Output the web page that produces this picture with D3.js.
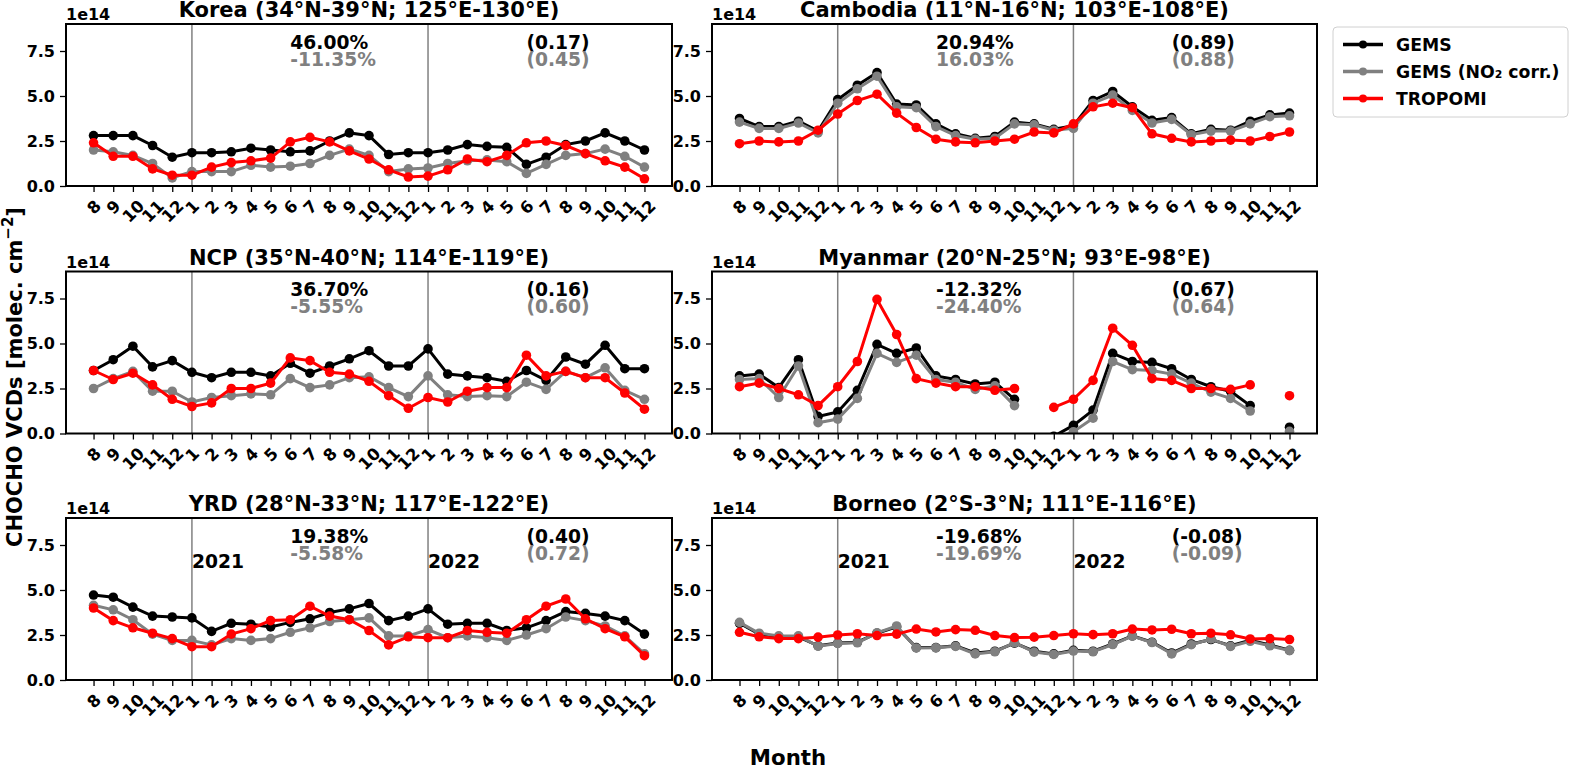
<!DOCTYPE html>
<html>
<head>
<meta charset="utf-8">
<script src="https://cdn.jsdelivr.net/npm/d3@7"></script>
<style>
  body { margin: 0; background: #fff; }
  svg { font-family: "DejaVu Sans", sans-serif; font-weight: bold; }
</style>
</head>
<body>
<div id="chart"></div>
<script>
// month tick labels, Aug 2020 .. Dec 2022
const months = ['8','9','10','11','12','1','2','3','4','5','6','7','8','9','10','11','12',
                '1','2','3','4','5','6','7','8','9','10','11','12']

const regions = ['Korea (34°N-39°N; 125°E-130°E)', 'Cambodia (11°N-16°N; 103°E-108°E)',
                 'NCP (35°N-40°N; 114°E-119°E)', 'Myanmar (20°N-25°N; 93°E-98°E)',
                 'YRD (28°N-33°N; 117°E-122°E)', 'Borneo (2°S-3°N; 111°E-116°E)']

const seriesNames = ['GEMS', 'GEMS (NO₂ corr.)', 'TROPOMI']
const yTicks = [0, 2.5, 5, 7.5]
const yearLabels = ['2021', '2022']
const yearIdx = [5, 17]

// values in 1e14 molec. cm-2
const koreaGems = [2.8,2.8,2.8,2.25,1.6,1.85,1.85,1.9,2.1,2.0,1.9,1.95,2.5,2.95,2.8,1.75,1.85,1.85,2.0,2.3,2.2,2.15,1.2,1.6,2.3,2.5,2.95,2.5,2.0]
const koreaCorr = [2.0,1.9,1.7,1.25,0.45,0.8,0.8,0.8,1.15,1.05,1.1,1.25,1.7,2.05,1.7,0.8,0.95,1.0,1.25,1.4,1.45,1.35,0.7,1.2,1.7,1.8,2.05,1.65,1.05]
const koreaTropomi = [2.4,1.65,1.65,0.95,0.6,0.6,1.05,1.3,1.4,1.55,2.45,2.7,2.45,1.95,1.5,0.9,0.5,0.55,0.9,1.5,1.35,1.7,2.4,2.5,2.25,1.8,1.4,1.05,0.4]

const cambodiaGems = [3.75,3.3,3.3,3.6,3.05,4.8,5.6,6.3,4.55,4.5,3.45,2.9,2.65,2.75,3.55,3.45,3.15,3.35,4.75,5.25,4.4,3.65,3.8,2.9,3.15,3.1,3.6,3.95,4.05]
const cambodiaCorr = [3.55,3.2,3.2,3.5,2.95,4.6,5.4,6.1,4.4,4.35,3.3,2.8,2.6,2.65,3.45,3.4,3.1,3.2,4.6,5.05,4.2,3.5,3.7,2.85,3.05,3.05,3.45,3.85,3.9]
const cambodiaTropomi = [2.35,2.5,2.45,2.5,3.1,4.0,4.75,5.1,4.05,3.25,2.6,2.45,2.4,2.5,2.6,3.0,2.95,3.45,4.4,4.6,4.35,2.9,2.65,2.45,2.5,2.55,2.5,2.75,3.0]

const ncpGems = [3.5,4.1,4.85,3.7,4.05,3.4,3.1,3.4,3.4,3.2,3.9,3.35,3.75,4.15,4.6,3.75,3.75,4.7,3.3,3.2,3.1,2.9,3.5,2.95,4.25,3.85,4.9,3.6,3.6]
const ncpCorr = [2.5,3.05,3.45,2.35,2.35,1.75,2.0,2.1,2.2,2.15,3.05,2.55,2.7,3.1,3.15,2.55,2.05,3.2,2.15,2.05,2.1,2.05,2.85,2.45,3.45,3.1,3.65,2.4,1.9]
const ncpTropomi = [3.5,3.0,3.35,2.7,1.9,1.5,1.7,2.5,2.5,2.8,4.2,4.05,3.4,3.3,2.9,2.1,1.4,2.0,1.75,2.35,2.55,2.55,4.35,3.2,3.45,3.1,3.1,2.25,1.35]

const myanmarGems = [3.2,3.3,2.55,4.1,0.95,1.2,2.4,4.95,4.45,4.75,3.2,3.0,2.75,2.85,1.9,null,-0.15,0.45,1.3,4.45,4.0,3.95,3.6,3.0,2.6,2.35,1.55,null,0.35]
const myanmarCorr = [3.0,3.05,2.0,3.75,0.6,0.8,1.95,4.45,3.95,4.35,3.0,2.85,2.45,2.65,1.55,null,-0.3,0.1,0.85,4.0,3.55,3.5,3.3,2.8,2.3,1.95,1.25,null,0.12]
const myanmarTropomi = [2.6,2.8,2.5,2.15,1.55,2.6,4.0,7.45,5.5,3.05,2.8,2.6,2.6,2.4,2.5,null,1.45,1.9,2.95,5.85,4.9,3.05,2.95,2.5,2.5,2.45,2.7,null,2.1]

const yrdGems = [4.72,4.6,4.05,3.55,3.5,3.45,2.7,3.15,3.1,2.95,3.2,3.4,3.75,3.95,4.25,3.3,3.55,3.95,3.1,3.15,3.15,2.75,2.9,3.3,3.8,3.7,3.55,3.3,2.55]
const yrdCorr = [4.15,3.9,3.35,2.55,2.2,2.2,1.95,2.3,2.2,2.3,2.65,2.9,3.25,3.35,3.45,2.45,2.45,2.8,2.35,2.45,2.35,2.2,2.5,2.85,3.5,3.3,3.0,2.45,1.45]
const yrdTropomi = [4.0,3.3,2.9,2.6,2.3,1.85,1.85,2.55,2.85,3.3,3.35,4.1,3.55,3.35,2.75,1.95,2.4,2.35,2.35,2.75,2.65,2.6,3.35,4.1,4.5,3.4,2.85,2.4,1.35]

const borneoGems = [3.15,2.55,2.4,2.4,1.9,2.05,2.1,2.6,2.95,1.8,1.8,1.9,1.5,1.6,2.05,1.6,1.45,1.65,1.6,2.0,2.45,2.1,1.5,2.0,2.25,1.9,2.2,1.95,1.65]
const borneoCorr = [3.2,2.6,2.45,2.45,1.88,2.03,2.07,2.62,3.0,1.78,1.79,1.87,1.45,1.57,2.07,1.55,1.42,1.61,1.57,1.97,2.44,2.08,1.45,1.96,2.28,1.87,2.15,1.9,1.63]
const borneoTropomi = [2.65,2.4,2.3,2.3,2.38,2.5,2.57,2.47,2.55,2.83,2.67,2.8,2.76,2.47,2.36,2.38,2.47,2.57,2.52,2.57,2.83,2.78,2.82,2.57,2.6,2.51,2.28,2.3,2.25]

// trend (%) and correlation annotations, panel order
const pctGems = ['46.00%', '20.94%', '36.70%', '-12.32%', '19.38%', '-19.68%']
const pctCorr = ['-11.35%', '16.03%', '-5.55%', '-24.40%', '-5.58%', '-19.69%']
const rGems = ['(0.17)', '(0.89)', '(0.16)', '(0.67)', '(0.40)', '(-0.08)']
const rCorr = ['(0.45)', '(0.88)', '(0.60)', '(0.64)', '(0.72)', '(-0.09)']

const panelData = [
  [koreaGems, koreaCorr, koreaTropomi],
  [cambodiaGems, cambodiaCorr, cambodiaTropomi],
  [ncpGems, ncpCorr, ncpTropomi],
  [myanmarGems, myanmarCorr, myanmarTropomi],
  [yrdGems, yrdCorr, yrdTropomi],
  [borneoGems, borneoCorr, borneoTropomi]
]

const colors = ['#000000', '#808080', '#ff0000']
const width = 1575, height = 768
const cols = [[66, 672], [712, 1317]]
const rows = [[24, 186], [271.5, 433.5], [518, 680]]

const svg = d3.select('#chart').append('svg')
    .attr('width', width)
    .attr('height', height)

panelData.forEach(function(series, p) {
    let [x0, x1] = cols[p % 2]
    let [top, bottom] = rows[Math.floor(p / 2)]
    let x = d3.scaleLinear().domain([-1.4, 29.4]).range([x0, x1])
    let y = d3.scaleLinear().domain([0, 9]).range([bottom, top])
    let g = svg.append('g')

    // clip
    let clipId = 'clip' + p
    svg.append('clipPath').attr('id', clipId)
      .append('rect')
        .attr('x', x0).attr('y', top)
        .attr('width', x1 - x0).attr('height', bottom - top)

    // year separators
    g.selectAll('.vline').data(yearIdx).enter().append('line')
        .attr('x1', d => x(d)).attr('x2', d => x(d))
        .attr('y1', top).attr('y2', bottom)
        .attr('stroke', '#808080').attr('stroke-width', 1.5)

    // series
    let plot = g.append('g').attr('clip-path', 'url(#' + clipId + ')')
    let line = d3.line()
        .defined(d => d != null)
        .x((d, i) => x(i))
        .y(d => y(d))
    series.forEach(function(vals, s) {
        plot.append('path')
            .attr('d', line(vals))
            .attr('fill', 'none')
            .attr('stroke', colors[s])
            .attr('stroke-width', 3)
        plot.selectAll('.pt' + s)
            .data(vals.map((v, i) => [i, v]).filter(d => d[1] != null))
          .enter().append('circle')
            .attr('cx', d => x(d[0]))
            .attr('cy', d => y(d[1]))
            .attr('r', 4.8)
            .attr('fill', colors[s])
    })

    // spine
    g.append('rect')
        .attr('x', x0).attr('y', top)
        .attr('width', x1 - x0).attr('height', bottom - top)
        .attr('fill', 'none').attr('stroke', '#000').attr('stroke-width', 2)

    // y axis
    let yAxis = g.append('g')
        .attr('transform', 'translate(' + x0 + ',0)')
        .call(d3.axisLeft(y).tickValues(yTicks).tickFormat(d3.format('.1f')).tickSize(6).tickPadding(5))
    yAxis.select('.domain').remove()
    yAxis.selectAll('line').attr('stroke-width', 1.3)
    yAxis.selectAll('text')
        .attr('font-size', 16).attr('font-weight', 'bold')
        .attr('font-family', '"DejaVu Sans", sans-serif')
        .attr('fill', '#000')

    // x axis
    let xAxis = g.append('g')
        .attr('transform', 'translate(0,' + bottom + ')')
        .call(d3.axisBottom(x).tickValues(d3.range(months.length)).tickFormat(i => months[i]).tickSize(6))
    xAxis.select('.domain').remove()
    xAxis.selectAll('line').attr('stroke-width', 1.3)
    xAxis.selectAll('text')
        .attr('font-size', 16.5).attr('font-weight', 'bold')
        .attr('font-family', '"DejaVu Sans", sans-serif')
        .attr('fill', '#000')
        .attr('dy', null)
        .attr('y', 0)
        .attr('dominant-baseline', 'central')
        .attr('text-anchor', 'middle')
        .attr('transform', function() {
            let w = this.getComputedTextLength()
            let off = 12 + (w + 15) * 0.7071 / 2
            return 'translate(0,' + off + ') rotate(-45)'
        })

    // offset label
    g.append('text')
        .attr('x', x0).attr('y', top - 4)
        .attr('font-size', 16)
        .text('1e14')

    // title
    g.append('text')
        .attr('x', (x0 + x1) / 2).attr('y', top - 7)
        .attr('text-anchor', 'middle')
        .attr('font-size', 21)
        .text(regions[p])

    // annotations
    let notes = [[10, 18, pctGems[p], '#000'], [10, 35, pctCorr[p], '#808080'],
                 [22, 18, rGems[p], '#000'], [22, 35, rCorr[p], '#808080']]
    notes.forEach(function(n) {
        g.append('text')
            .attr('x', x(n[0])).attr('y', top + n[1])
            .attr('dominant-baseline', 'central')
            .attr('font-size', 18.7)
            .attr('fill', n[3])
            .text(n[2])
    })

    if (p >= 4) {
        yearIdx.forEach(function(d, k) {
            g.append('text')
                .attr('x', x(d)).attr('y', top + 43)
                .attr('dominant-baseline', 'central')
                .attr('font-size', 18.7)
                .text(yearLabels[k])
        })
    }
})

// legend
let legend = svg.append('g')
legend.append('rect')
    .attr('x', 1333).attr('y', 27)
    .attr('width', 235).attr('height', 90)
    .attr('rx', 4)
    .attr('fill', '#fff').attr('stroke', '#d0d0d0').attr('stroke-width', 1)
seriesNames.forEach(function(name, s) {
    let ly = 44.5 + s * 27
    legend.append('line')
        .attr('x1', 1343).attr('x2', 1383)
        .attr('y1', ly).attr('y2', ly)
        .attr('stroke', colors[s]).attr('stroke-width', 3.5)
    legend.append('circle')
        .attr('cx', 1363).attr('cy', ly).attr('r', 4)
        .attr('fill', colors[s])
    legend.append('text')
        .attr('x', 1396).attr('y', ly)
        .attr('dominant-baseline', 'central')
        .attr('font-size', 17.3)
        .text(name)
})

// axis titles
let ylab = svg.append('text')
    .attr('transform', 'translate(15,377) rotate(-90)')
    .attr('text-anchor', 'middle')
    .attr('dominant-baseline', 'central')
    .attr('font-size', 21)
ylab.append('tspan').text('CHOCHO VCDs [molec. cm')
ylab.append('tspan').attr('font-size', 15).attr('dy', -7).text('−2')
ylab.append('tspan').attr('dy', 7).text(']')

svg.append('text')
    .attr('x', 788).attr('y', 757)
    .attr('text-anchor', 'middle')
    .attr('dominant-baseline', 'central')
    .attr('font-size', 21.3)
    .text('Month')
</script>
</body>
</html>
